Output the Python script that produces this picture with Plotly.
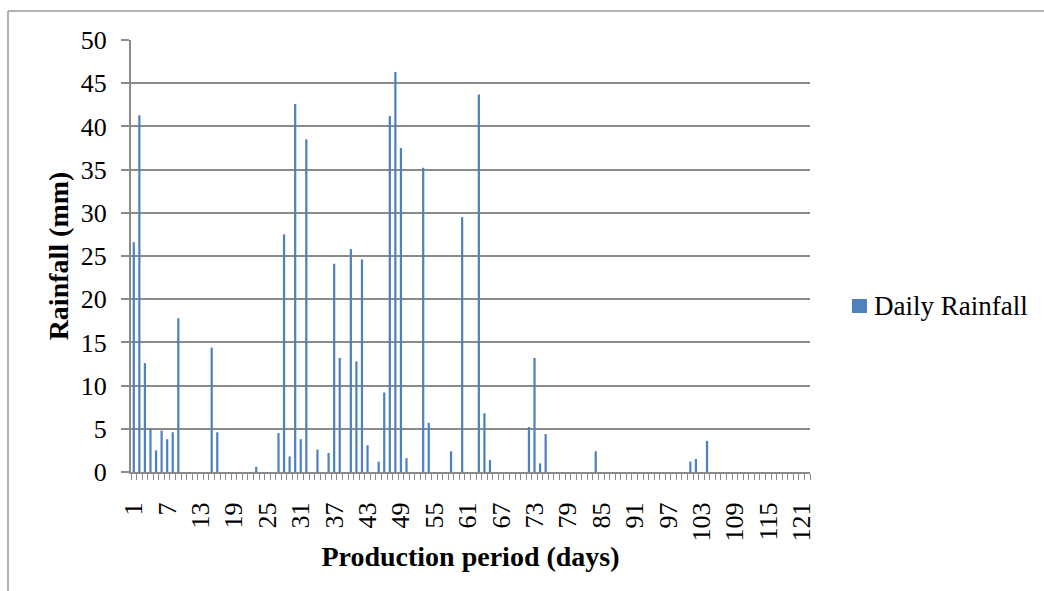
import plotly.graph_objects as go

days = list(range(1, 123))
rainfall = [
    26.6, 41.3, 12.6, 5.0, 2.5, 4.8, 3.8, 4.6, 17.8, 0,
    0, 0, 0, 0, 14.4, 4.6, 0, 0, 0, 0,
    0, 0, 0.6, 0, 0, 0, 4.5, 27.5, 1.8, 42.6,
    3.8, 38.5, 0, 2.6, 0, 2.2, 24.1, 13.2, 0, 25.8,
    12.8, 24.6, 3.1, 0, 1.2, 9.2, 41.2, 46.3, 37.5, 1.6,
    0, 0, 35.2, 5.7, 0, 0, 0, 2.4, 0, 29.5,
    0, 0, 43.7, 6.8, 1.4, 0, 0, 0, 0, 0,
    0, 5.2, 13.2, 1.0, 4.4, 0, 0, 0, 0, 0,
    0, 0, 0, 2.4, 0, 0, 0, 0, 0, 0,
    0, 0, 0, 0, 0, 0, 0, 0, 0, 0,
    1.2, 1.5, 0, 3.6, 0, 0, 0, 0, 0, 0,
    0, 0, 0, 0, 0, 0, 0, 0, 0, 0,
    0, 0,
]
x_tick_labels = [1, 7, 13, 19, 25, 31, 37, 43, 49, 55, 61, 67, 73, 79, 85, 91, 97, 103, 109, 115, 121]
y_ticks = [0, 5, 10, 15, 20, 25, 30, 35, 40, 45, 50]
series_name = "Daily Rainfall"

FONT = "Liberation Serif, Times New Roman, serif"
GRAY = "#8a8a8a"
BLUE = "#4F81BD"

fig = go.Figure()
fig.add_trace(go.Bar(
    x=days, y=rainfall, name=series_name, showlegend=False,
    marker=dict(color=BLUE, line=dict(width=0)),
))

L, R, T, B = 131, 234, 40, 119
W, H = 1044, 591
pw, ph = W - L - R, H - T - B

def px(xpix):
    return (xpix - L) / pw

def py(ypix):
    return (H - B - ypix) / ph

fig.update_layout(
    width=W, height=H,
    margin=dict(l=L, r=R, t=T, b=B),
    paper_bgcolor="white", plot_bgcolor="white",
    bargap=0.6,
    showlegend=False,
    font=dict(family=FONT, color="black"),
)

fig.update_xaxes(
    range=[0.5, 122.5],
    tickmode="array", tickvals=x_tick_labels,
    ticktext=[str(v) for v in x_tick_labels],
    tickangle=-90,
    tickfont=dict(family=FONT, size=26, color="black"),
    ticks="outside", ticklen=0, tickcolor=GRAY,
    ticklabelstandoff=18,
    minor=dict(ticks="outside", tickmode="linear", tick0=0.5, dtick=1,
               ticklen=6, tickcolor=GRAY, tickwidth=1, showgrid=False),
    showline=True, linecolor=GRAY, linewidth=2,
    showgrid=False, zeroline=False,
    title=dict(text="<b>Production period (days)</b>",
               font=dict(family=FONT, size=28, color="black"), standoff=6),
)

fig.update_yaxes(
    range=[0, 50],
    tickmode="array", tickvals=y_ticks,
    tickfont=dict(family=FONT, size=26, color="black"),
    ticks="outside", ticklen=8, tickcolor=GRAY, tickwidth=2,
    ticklabelstandoff=9,
    showline=True, linecolor=GRAY, linewidth=2,
    showgrid=True, gridcolor=GRAY, gridwidth=2,
    zeroline=False,
    title=dict(text="<b>Rainfall (mm)</b>",
               font=dict(family=FONT, size=28, color="black"), standoff=4),
)

# manual legend
fig.add_shape(type="rect", xref="paper", yref="paper",
              x0=px(852), x1=px(867), y0=py(313), y1=py(299),
              fillcolor=BLUE, line=dict(width=0))
fig.add_annotation(xref="paper", yref="paper", x=px(872), y=py(306),
                   xanchor="left", yanchor="middle", showarrow=False,
                   text=series_name,
                   font=dict(family=FONT, size=27, color="black"))

# outer frame (top and left edges visible in the reference)
fx = px(8)
fy = py(11)
fig.add_shape(type="line", xref="paper", yref="paper",
              x0=fx, x1=px(W) + 0.01, y0=fy, y1=fy,
              line=dict(color="#999999", width=1.5))
fig.add_shape(type="line", xref="paper", yref="paper",
              x0=fx, x1=fx, y0=fy, y1=py(H) - 0.01,
              line=dict(color="#999999", width=1.5))

fig.write_html("out.html")
